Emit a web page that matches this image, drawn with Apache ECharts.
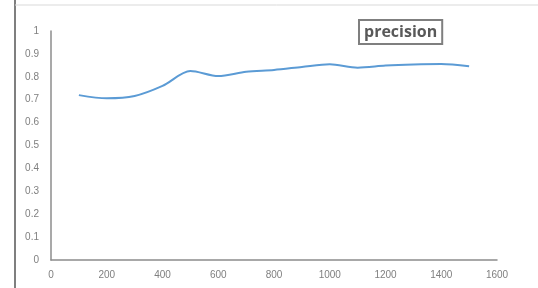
<!DOCTYPE html>
<html>
<head>
<meta charset="utf-8">
<style>
  html, body { margin: 0; padding: 0; background: #fff; }
  #chart { width: 538px; height: 288px; }
</style>
<script src="https://cdn.jsdelivr.net/npm/echarts@6/dist/echarts.min.js"></script>
</head>
<body>
<div id="chart"></div>
<script>
// x positions (samples) and precision values
const steps = [100, 200, 300, 400, 500, 600, 700, 800, 900, 1000, 1100, 1200, 1300, 1400, 1500];
const precision = [0.72, 0.706, 0.716, 0.76, 0.825, 0.803, 0.822, 0.83, 0.843, 0.855, 0.84, 0.849, 0.854, 0.856, 0.846];
const seriesName = 'precision';

const myChart = echarts.init(document.getElementById('chart'));

myChart.setOption({
    animation: false,
    color: ['#5b9bd5'],
    grid: { left: 51, right: 41, top: 31, bottom: 28 },
    legend: {
        data: [seriesName],
        left: 359,
        top: 20,
        icon: 'none',
        itemWidth: 0,
        itemGap: 0,
        padding: [4, 5, 4, 0],
        borderColor: '#7f7f7f',
        borderWidth: 2,
        textStyle: { color: '#595959', fontSize: 16, fontWeight: 'bold', fontFamily: 'Open Sans' }
    },
    xAxis: {
        type: 'value',
        min: 0,
        max: 1600,
        interval: 200,
        axisLine: { show: true, lineStyle: { color: '#8c8c8c', width: 1.5 } },
        axisTick: { show: false },
        splitLine: { show: false },
        axisLabel: { color: '#7f7f7f', fontSize: 10, margin: 10, fontFamily: 'Liberation Sans', formatter: v => String(v) }
    },
    yAxis: {
        type: 'value',
        min: 0,
        max: 1,
        interval: 0.1,
        axisLine: { show: true, lineStyle: { color: '#8c8c8c', width: 1.5 } },
        axisTick: { show: false },
        splitLine: { show: false },
        axisLabel: { color: '#7f7f7f', fontSize: 10, margin: 12, fontFamily: 'Liberation Sans' }
    },
    graphic: [
        { type: 'line', shape: { x1: 15, y1: 0, x2: 15, y2: 288 }, style: { stroke: '#7f7f7f', lineWidth: 2 } },
        { type: 'line', shape: { x1: 15, y1: 5, x2: 538, y2: 5 }, style: { stroke: '#d9d9d9', lineWidth: 1 } }
    ],
    series: [
        {
            name: seriesName,
            type: 'line',
            smooth: 0.3,
            showSymbol: false,
            lineStyle: { width: 2 },
            data: steps.map((s, i) => [s, precision[i]])
        }
    ]
});
</script>
</body>
</html>
